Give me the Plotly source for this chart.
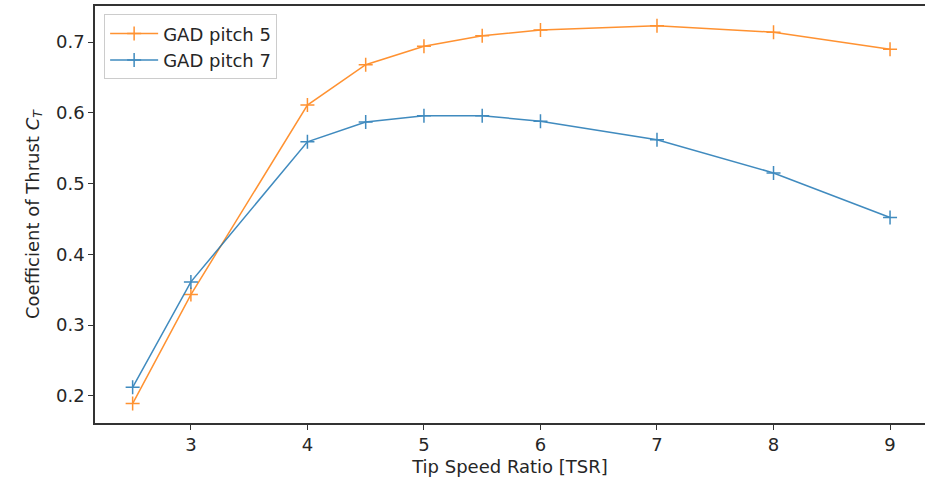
import plotly.graph_objects as go

tsr = [2.5, 3, 4, 4.5, 5, 5.5, 6, 7, 8, 9]
ct_pitch5 = [0.189, 0.343, 0.611, 0.668, 0.694, 0.709, 0.717, 0.723, 0.714, 0.690]
ct_pitch7 = [0.212, 0.361, 0.559, 0.587, 0.596, 0.596, 0.588, 0.562, 0.515, 0.452]
series_names = ["GAD pitch 5", "GAD pitch 7"]
x_ticks = [3, 4, 5, 6, 7, 8, 9]
y_ticks = [0.2, 0.3, 0.4, 0.5, 0.6, 0.7]

ORANGE = "#ff7f0e"
BLUE = "#1f77b4"
FONT = "DejaVu Sans"
TXT = "#262626"

fig = go.Figure()
for name, vals, col in [(series_names[0], ct_pitch5, ORANGE), (series_names[1], ct_pitch7, BLUE)]:
    fig.add_trace(go.Scatter(
        x=tsr, y=vals, name=name, mode="lines+markers",
        line=dict(color=col, width=1.5),
        marker=dict(symbol="cross-thin", size=10, line=dict(color=col, width=1.5), color=col),
        opacity=0.85,
    ))

fig.update_layout(
    width=925, height=483,
    margin=dict(l=95, r=0, t=6, b=60),
    paper_bgcolor="white", plot_bgcolor="white",
    font=dict(family=FONT, size=18, color=TXT),
    showlegend=True,
    legend=dict(
        x=0.011, y=0.98, xanchor="left", yanchor="top",
        bgcolor="rgba(255,255,255,0.8)", bordercolor="#cccccc", borderwidth=1,
        font=dict(family=FONT, size=18, color=TXT),
        tracegroupgap=0, itemwidth=48,
    ),
    xaxis=dict(
        range=[2.177, 9.30], tickvals=x_ticks, ticktext=[str(v) for v in x_ticks],
        showgrid=False, zeroline=False, showline=True, mirror=True,
        linecolor="#333333", linewidth=1.5,
        ticks="outside", ticklen=5, tickwidth=1.2, tickcolor="#333333",
        tickfont=dict(family=FONT, size=18, color=TXT),
        title=dict(text="Tip Speed Ratio [TSR]", font=dict(family=FONT, size=18, color=TXT), standoff=6),
    ),
    yaxis=dict(
        range=[0.1615, 0.751], tickvals=y_ticks, ticktext=[f"{v:.1f}" for v in y_ticks],
        showgrid=False, zeroline=False, showline=True, mirror=False,
        linecolor="#333333", linewidth=1.5,
        ticks="outside", ticklen=5, tickwidth=1.2, tickcolor="#333333",
        tickfont=dict(family=FONT, size=18, color=TXT),
        title=dict(text="Coefficient of Thrust <i>C</i><sub><i>T</i></sub>",
                   font=dict(family=FONT, size=18, color=TXT), standoff=12),
    ),
)

fig.write_html(
    "out.html",
    config={"displayModeBar": False},
    post_script="document.body.style.margin='0';document.body.style.overflow='hidden';",
)
